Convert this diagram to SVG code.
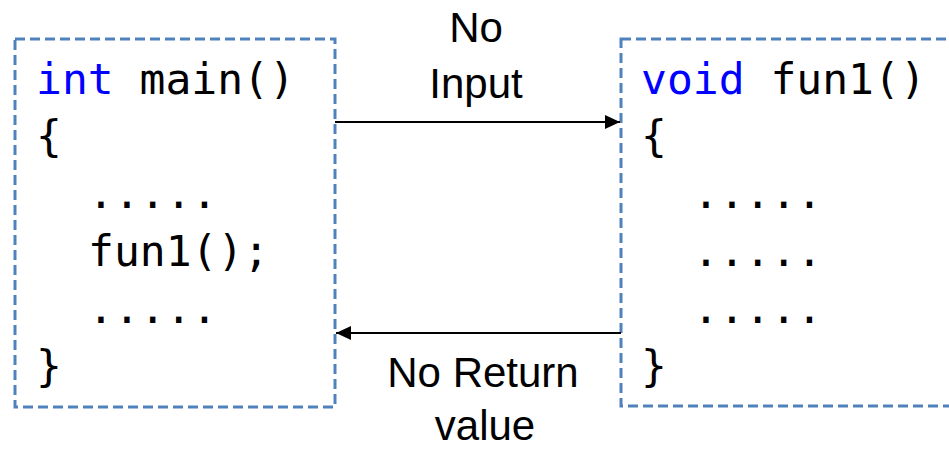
<svg xmlns="http://www.w3.org/2000/svg" width="949" height="449" viewBox="0 0 949 449">
  <style>
    .box { fill: none; stroke: #4F81BD; stroke-width: 3; stroke-dasharray: 10 5; }
    .code { font-family: "DejaVu Sans Mono", "Liberation Mono", monospace; font-size: 43px; fill: #000; }
    .kw { fill: #0000FF; }
    .label { font-family: "Liberation Sans", Arial, sans-serif; font-size: 42px; fill: #000; text-anchor: middle; }
    .conn { stroke: #000; stroke-width: 2; fill: none; }
  </style>
  <defs>
    <marker id="arrow" viewBox="0 0 10 10" refX="10" refY="5" markerWidth="15" markerHeight="14" markerUnits="userSpaceOnUse" orient="auto" preserveAspectRatio="none">
      <path d="M0,0 L10,5 L0,10 z" fill="#000"/>
    </marker>
  </defs>
  <rect width="949" height="449" fill="#fff"/>

  <g id="main-node">
    <rect class="box" x="15" y="39" width="320" height="368"/>
    <text class="code" x="36" y="94"><tspan class="kw">int</tspan> main()</text>
    <text class="code" x="36" y="151">{</text>
    <text class="code" x="88" y="208">.....</text>
    <text class="code" x="88" y="266">fun1();</text>
    <text class="code" x="88" y="323">.....</text>
    <text class="code" x="36" y="381">}</text>
  </g>

  <g id="fun1-node">
    <rect class="box" x="621" y="39" width="350" height="367"/>
    <text class="code" x="641" y="94"><tspan class="kw">void</tspan> fun1()</text>
    <text class="code" x="641" y="151">{</text>
    <text class="code" x="693" y="208">.....</text>
    <text class="code" x="693" y="266">.....</text>
    <text class="code" x="693" y="323">.....</text>
    <text class="code" x="641" y="381">}</text>
  </g>

  <g id="connectors">
    <line class="conn" x1="335" y1="122" x2="620" y2="122" marker-end="url(#arrow)"/>
    <line class="conn" x1="621" y1="333" x2="336" y2="333" marker-end="url(#arrow)"/>
    <text class="label" x="476" y="42">No</text>
    <text class="label" x="476" y="98">Input</text>
    <text class="label" x="483" y="387">No Return</text>
    <text class="label" x="485" y="440">value</text>
  </g>
</svg>
